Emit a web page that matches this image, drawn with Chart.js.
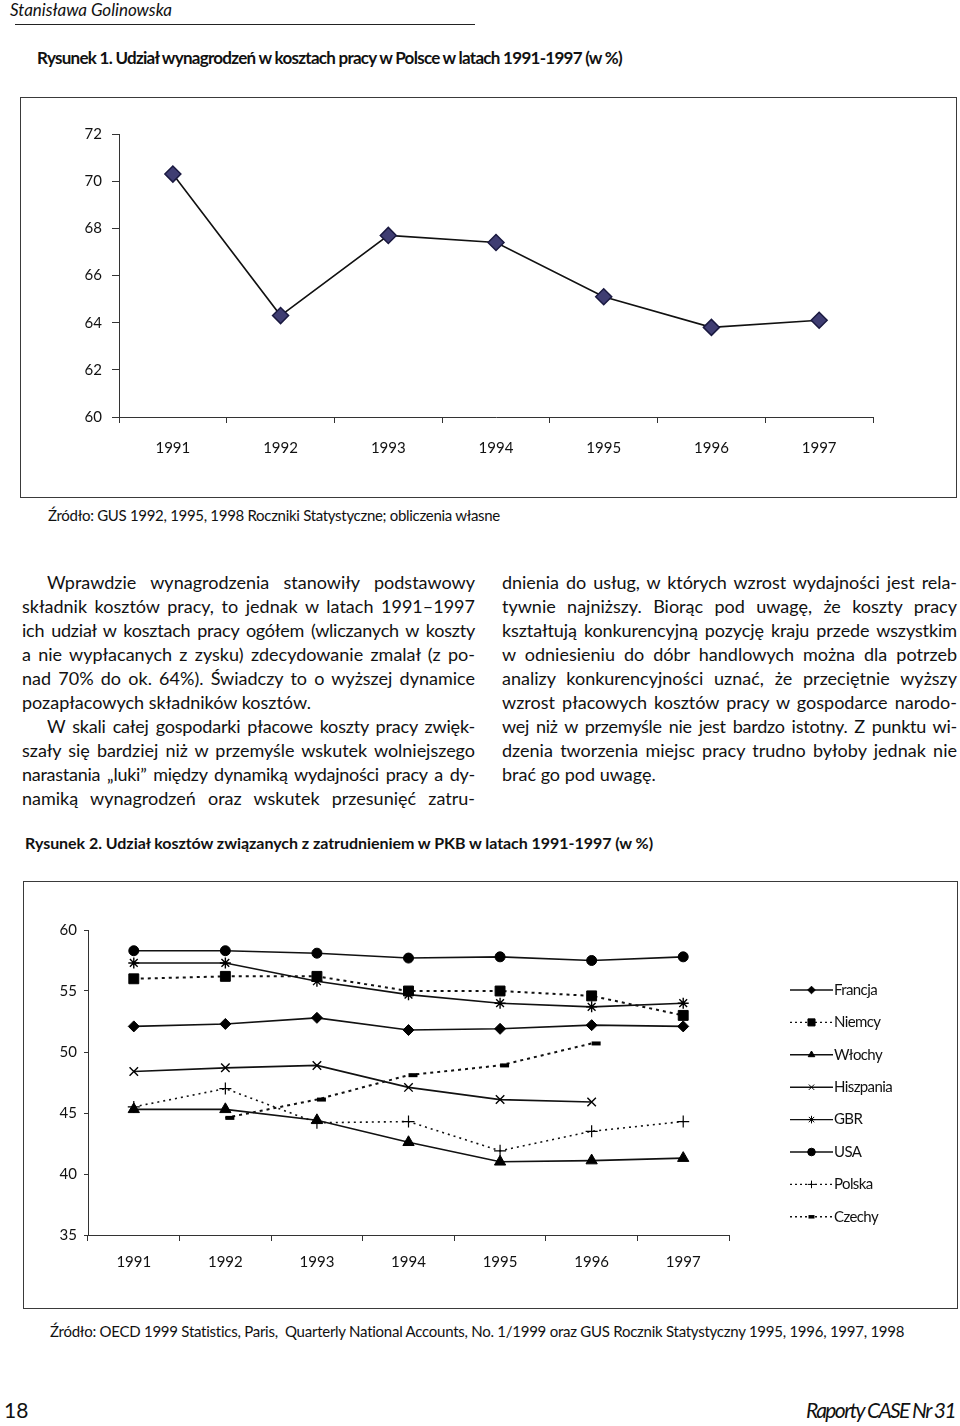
<!DOCTYPE html>
<html><head><meta charset="utf-8">
<script src="https://cdn.jsdelivr.net/npm/chart.js@4.4.0/dist/chart.umd.min.js"></script>
<style>
html,body{margin:0;padding:0;background:#fff}
body{width:960px;height:1426px;position:relative;overflow:hidden;font-family:Lato,"Open Sans",sans-serif;color:#111}
.a{position:absolute;white-space:nowrap}
.box{position:absolute;border:1.5px solid #3a3a3a;box-sizing:border-box;pointer-events:none}
.ln{position:absolute;white-space:nowrap;font-size:18px;line-height:24px}
canvas{position:absolute}
</style></head><body>

<div class="a" id="author" data-w="162" style="left:10px;top:0px;font-size:17px;font-style:italic;line-height:20px">Stanisława Golinowska</div>
<div style="position:absolute;left:15px;top:24px;width:460px;height:1px;background:#222"></div>
<div class="a" id="t1" data-w="585" style="left:37px;top:48px;font-size:17px;font-weight:bold;line-height:20px">Rysunek 1. Udział wynagrodzeń w kosztach pracy w Polsce w latach 1991-1997 (w %)</div>

<canvas id="c1" width="937" height="400" style="left:20px;top:97px;width:937px;height:400px"></canvas>
<div class="box" style="left:20px;top:97px;width:937px;height:401px"></div>

<div class="a" id="s1" data-w="452" style="left:48px;top:506px;font-size:15px;line-height:18px">Źródło: GUS 1992, 1995, 1998 Roczniki Statystyczne; obliczenia własne</div>

<div class="a" id="t2" data-w="628" style="left:25px;top:833px;font-size:16px;font-weight:bold;line-height:20px">Rysunek 2. Udział kosztów związanych z zatrudnieniem w PKB w latach 1991-1997 (w %)</div>

<canvas id="c2" width="935" height="428" style="left:23px;top:881px;width:935px;height:428px"></canvas>
<div class="box" style="left:23px;top:881px;width:935px;height:428px"></div>

<div class="a" id="s2" data-w="855" style="left:50px;top:1322px;font-size:15px;line-height:18px">Źródło: OECD 1999 Statistics, Paris,&nbsp; Quarterly National Accounts, No. 1/1999 oraz GUS Rocznik Statystyczny 1995, 1996, 1997, 1998</div>

<div class="a" id="pg" style="left:4px;top:1398px;font-size:21px;line-height:24px">18</div>
<div class="a" id="rap" data-w="149" style="right:5px;top:1398px;font-size:21px;font-style:italic;line-height:24px">Raporty CASE Nr 31</div>

<script>
// ---------- DATA ----------
const years = ['1991','1992','1993','1994','1995','1996','1997'];

// Rysunek 1: Udział wynagrodzeń w kosztach pracy (%)
const wageShare = [70.3, 64.3, 67.7, 67.4, 65.1, 63.8, 64.1];
const y1Min = 60, y1Max = 72, y1Step = 2;

// Rysunek 2: Udział kosztów związanych z zatrudnieniem w PKB (%)
const francja   = [52.1, 52.3, 52.8, 51.8, 51.9, 52.2, 52.1];
const niemcy    = [56.0, 56.2, 56.2, 55.0, 55.0, 54.6, 53.0];
const wlochy    = [45.3, 45.3, 44.4, 42.6, 41.0, 41.1, 41.3];
const hiszpania = [48.4, 48.7, 48.9, 47.1, 46.1, 45.9, null];
const gbr       = [57.3, 57.3, 55.8, 54.7, 54.0, 53.7, 54.0];
const usa       = [58.3, 58.3, 58.1, 57.7, 57.8, 57.5, 57.8];
const polska    = [45.5, 47.0, 44.2, 44.3, 41.9, 43.5, 44.3];
const czechy    = [null, 44.6, 46.1, 48.1, 48.9, 50.7, null];
const seriesNames = ['Francja','Niemcy','Włochy','Hiszpania','GBR','USA','Polska','Czechy'];
const y2Min = 35, y2Max = 60, y2Step = 5;

// ---------- TEXT ----------
const leftLines = [
  ['Wprawdzie wynagrodzenia stanowiły podstawowy', 1, 1],
  ['składnik kosztów pracy, to jednak w latach 1991–1997', 0, 1],
  ['ich udział w kosztach pracy ogółem (wliczanych w koszty', 0, 1],
  ['a nie wypłacanych z zysku) zdecydowanie zmalał (z po-', 0, 1],
  ['nad 70% do ok. 64%). Świadczy to o wyższej dynamice', 0, 1],
  ['pozapłacowych składników kosztów.', 0, 0],
  ['W skali całej gospodarki płacowe koszty pracy zwięk-', 1, 1],
  ['szały się bardziej niż w przemyśle wskutek wolniejszego', 0, 1],
  ['narastania „luki” między dynamiką wydajności pracy a dy-', 0, 1],
  ['namiką wynagrodzeń oraz wskutek przesunięć zatru-', 0, 1]
];
const rightLines = [
  ['dnienia do usług, w których wzrost wydajności jest rela-', 0, 1],
  ['tywnie najniższy. Biorąc pod uwagę, że koszty pracy', 0, 1],
  ['kształtują konkurencyjną pozycję kraju przede wszystkim', 0, 1],
  ['w odniesieniu do dóbr handlowych można dla potrzeb', 0, 1],
  ['analizy konkurencyjności uznać, że przeciętnie wyższy', 0, 1],
  ['wzrost płacowych kosztów pracy w gospodarce narodo-', 0, 1],
  ['wej niż w przemyśle nie jest bardzo istotny. Z punktu wi-', 0, 1],
  ['dzenia tworzenia miejsc pracy trudno byłoby jednak nie', 0, 1],
  ['brać go pod uwagę.', 0, 0]
];

function placeColumn(lines, left, width, top) {
  lines.forEach((l, i) => {
    const d = document.createElement('div');
    d.className = 'ln';
    const ind = l[1] ? 25 : 0;
    d.style.left = (left + ind) + 'px';
    d.style.top = (top + i * 24) + 'px';
    d.textContent = l[0];
    document.body.appendChild(d);
    const target = width - ind;
    const chars = l[0].length;
    const n = (l[0].match(/ /g) || []).length;
    let w = d.getBoundingClientRect().width;
    const minGap = 2.5 * n;
    if (w + minGap > target && l[2]) {
      d.style.letterSpacing = ((target - w - minGap) / chars) + 'px';
      w = d.getBoundingClientRect().width;
    } else if (w > target) {
      d.style.letterSpacing = ((target - w) / chars) + 'px';
      w = d.getBoundingClientRect().width;
    }
    if (l[2] && n > 0) d.style.wordSpacing = ((target - w) / n) + 'px';
  });
}
placeColumn(leftLines, 22, 453, 570);
placeColumn(rightLines, 502, 455, 570);

document.querySelectorAll('[data-w]').forEach(el => {
  const target = +el.dataset.w;
  const w = el.getBoundingClientRect().width;
  const n = el.textContent.length;
  el.style.letterSpacing = ((target - w) / n) + 'px';
});

// ---------- CHARTS ----------
const FONT = 'Lato';
const axisCol = '#333';

new Chart(document.getElementById('c1'), {
  type: 'line',
  data: {
    labels: years,
    datasets: [{
      label: 'Udział wynagrodzeń',
      data: wageShare,
      borderColor: '#111', borderWidth: 1.6, tension: 0,
      pointStyle: 'rectRot', pointRadius: 8,
      pointBackgroundColor: '#3f3d72', pointBorderColor: '#1a1940', pointBorderWidth: 1.5
    }]
  },
  options: {
    responsive: false, animation: false,
    layout: { padding: { left: 0, right: 84, top: 37, bottom: 0 } },
    plugins: { legend: { display: false }, tooltip: { enabled: false } },
    scales: {
      x: {
        offset: true,
        grid: { offset: true, drawOnChartArea: false, tickLength: 6, color: axisCol },
        border: { color: axisCol, width: 1 },
        ticks: { padding: 16, color: '#111', font: { family: FONT, size: 15 }, maxRotation: 0 },
        afterFit(s) { s.height = 80; }
      },
      y: {
        min: y1Min, max: y1Max,
        grid: { drawOnChartArea: false, tickLength: 7, color: axisCol },
        border: { color: axisCol, width: 1 },
        ticks: { stepSize: y1Step, padding: 10, color: '#111', font: { family: FONT, size: 15 } },
        afterFit(s) { s.width = 99; }
      }
    }
  }
});

const solid = { borderColor: '#111', borderWidth: 1.6, borderDash: [] };
const dotted = { borderColor: '#111', borderWidth: 2, borderDash: [3, 4] };
function ds(label, data, style, pstyle, r, pbw, extra) {
  return Object.assign({
    label, data, tension: 0, spanGaps: false,
    pointStyle: pstyle, pointRadius: r,
    pointBackgroundColor: '#000', pointBorderColor: '#000', pointBorderWidth: pbw
  }, style, extra || {});
}
const datasets2 = [
  ds(seriesNames[0], francja,   solid,  'rectRot',  5.5, 1),
  ds(seriesNames[1], niemcy,    dotted, 'rect',     7,   1),
  ds(seriesNames[2], wlochy,    solid,  'triangle', 6.5, 1),
  ds(seriesNames[3], hiszpania, solid,  'crossRot', 6,   1.4),
  ds(seriesNames[4], gbr,       solid,  'star',     5.5, 1.4),
  ds(seriesNames[5], usa,       solid,  'circle',   5,   1),
  ds(seriesNames[6], polska,    dotted, 'cross',    6,   1.2, { borderWidth: 1.6, borderDash: [2, 4] }),
  ds(seriesNames[7], czechy,    dotted, 'dash',     9,   4)
];

const sideLegend = {
  id: 'sideLegend',
  afterDraw(chart, args, o) {
    const ctx = chart.ctx;
    chart.data.datasets.forEach((d, i) => {
      const y = o.y0 + i * o.dy;
      ctx.save();
      ctx.strokeStyle = d.borderColor;
      ctx.lineWidth = 1.4;
      ctx.setLineDash(d.borderDash && d.borderDash.length ? [2, 3] : []);
      ctx.beginPath(); ctx.moveTo(o.x0, y); ctx.lineTo(o.x0 + o.w, y); ctx.stroke();
      ctx.setLineDash([]);
      ctx.fillStyle = d.pointBackgroundColor;
      ctx.strokeStyle = d.pointBorderColor;
      const isDash = d.pointStyle === 'dash';
      ctx.lineWidth = isDash ? 3.5 : 1;
      const r = d.pointStyle === 'rect' ? 5 : (isDash ? 6 : 3.8);
      Chart.helpers.drawPoint(ctx, { pointStyle: d.pointStyle, radius: r, rotation: 0, borderWidth: ctx.lineWidth }, o.x0 + o.w / 2 - (isDash ? 3 : 0), y);
      ctx.fillStyle = '#111';
      ctx.font = '15px ' + FONT;
      ctx.letterSpacing = '-0.6px';
      ctx.textBaseline = 'middle';
      ctx.fillText(d.label, o.x0 + o.w + 1, y);
      ctx.restore();
    });
  }
};

new Chart(document.getElementById('c2'), {
  type: 'line',
  data: { labels: years, datasets: datasets2 },
  plugins: [sideLegend],
  options: {
    responsive: false, animation: false,
    layout: { padding: { left: 0, right: 229, top: 49, bottom: 0 } },
    plugins: {
      legend: { display: false }, tooltip: { enabled: false },
      sideLegend: { x0: 767, w: 43, y0: 109, dy: 32.4 }
    },
    scales: {
      x: {
        offset: true,
        grid: { offset: true, drawOnChartArea: false, tickLength: 6, color: axisCol },
        border: { color: axisCol, width: 1 },
        ticks: { padding: 12, color: '#111', font: { family: FONT, size: 15 }, maxRotation: 0 },
        afterFit(s) { s.height = 74; }
      },
      y: {
        min: y2Min, max: y2Max,
        grid: { drawOnChartArea: false, tickLength: 4, color: axisCol },
        border: { color: axisCol, width: 1 },
        ticks: { stepSize: y2Step, padding: 7, color: '#111', font: { family: FONT, size: 15 } },
        afterFit(s) { s.width = 65; }
      }
    }
  }
});
</script>
</body></html>
